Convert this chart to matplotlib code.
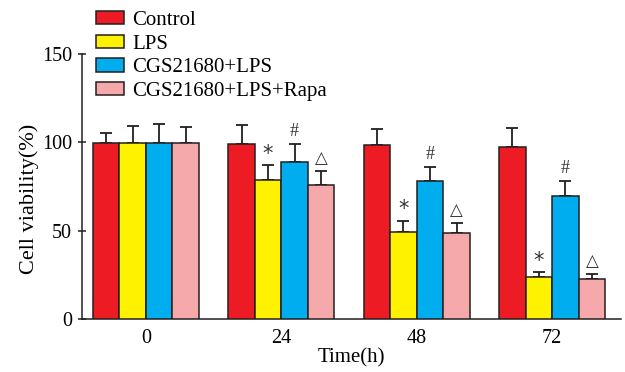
import numpy as np
import matplotlib
matplotlib.use("Agg")
import matplotlib.pyplot as plt
from matplotlib.patches import Patch

plt.rcParams["font.family"] = ["Liberation Serif", "DejaVu Sans"]

# ── Data ──────────────────────────────────────────────────────────────
time_labels = ["0", "24", "48", "72"]
series_names = ["Control", "LPS", "CGS21680+LPS", "CGS21680+LPS+Rapa"]

control = [99.5, 99.1, 98.3, 97.2]
lps = [99.5, 78.6, 49.6, 23.7]
cgs_lps = [99.5, 89.1, 78.0, 69.9]
cgs_lps_rapa = [99.5, 75.8, 48.7, 22.7]

control_err = [6.0, 10.5, 9.3, 11.0]
lps_err = [10.0, 8.5, 6.2, 3.0]
cgs_lps_err = [11.0, 9.8, 8.3, 8.1]
cgs_lps_rapa_err = [9.0, 8.0, 5.6, 2.8]

# significance marks: (time index, series index, symbol)
sig_marks = [
    (1, 1, "*"), (1, 2, "#"), (1, 3, "\u25b3"),
    (2, 1, "*"), (2, 2, "#"), (2, 3, "\u25b3"),
    (3, 1, "*"), (3, 2, "#"), (3, 3, "\u25b3"),
]

colors = ["#ED1C24", "#FFF200", "#00AEEF", "#F5A9AB"]
edge = "#231F20"

values = [control, lps, cgs_lps, cgs_lps_rapa]
errors = [control_err, lps_err, cgs_lps_err, cgs_lps_rapa_err]

# ── Plot ──────────────────────────────────────────────────────────────
fig = plt.figure(figsize=(6.25, 3.72), dpi=100)
ax = fig.add_axes([0.131, 0.1417, 0.863, 0.7131])

x = np.arange(len(time_labels))
w = 0.196
offsets = (np.arange(4) - 1.5) * w

for k in range(4):
    ax.bar(x + offsets[k], values[k], width=w, color=colors[k],
           edgecolor=edge, linewidth=1.1, zorder=3)
    ax.errorbar(x + offsets[k], values[k],
                yerr=[np.zeros(4), errors[k]], fmt="none",
                ecolor=edge, elinewidth=1.3, capsize=4.3, capthick=1.3,
                zorder=2)

# symbol styling: (font size, family, y offset in points)
sym_style = {
    "*": (15, "DejaVu Sans", 1),
    "#": (13, "Liberation Serif", 3),
    "\u25b3": (12, "DejaVu Sans", 3),
}
for ti, si, sym in sig_marks:
    top = values[si][ti] + errors[si][ti]
    fs, fam, dy = sym_style[sym]
    ax.annotate(sym, (x[ti] + offsets[si], top), xytext=(0, dy),
                textcoords="offset points", ha="center", va="bottom",
                fontsize=fs, family=fam, color="#333333")

ax.set_xlim(-0.473, 3.51)
ax.set_ylim(0, 150)
ax.set_yticks([0, 50, 100, 150])
ax.set_xticks(x)
ax.set_xticklabels(time_labels)

ax.tick_params(axis="x", length=0, pad=7, labelsize=14.5)
ax.tick_params(axis="y", direction="inout", length=6, width=1.1,
               pad=4, labelsize=14.5, color=edge)

for s in ["top", "right"]:
    ax.spines[s].set_visible(False)
for s in ["left", "bottom"]:
    ax.spines[s].set_linewidth(1.1)
    ax.spines[s].set_color(edge)

ax.set_ylabel("Cell viability(%)", fontsize=16)
ax.yaxis.set_label_coords(-0.079, 0.455)
ax.set_xlabel("Time(h)", fontsize=15, labelpad=0)

handles = [Patch(facecolor=c, edgecolor=edge, linewidth=1.1) for c in colors]
fig.legend(handles, series_names, loc="upper left",
           bbox_to_anchor=(0.147, 0.982), frameon=False, fontsize=15,
           handlelength=1.35, handleheight=0.62, handletextpad=0.4,
           labelspacing=0.22, borderpad=0.2, borderaxespad=0.0)

fig.savefig("out.png", dpi=100)
